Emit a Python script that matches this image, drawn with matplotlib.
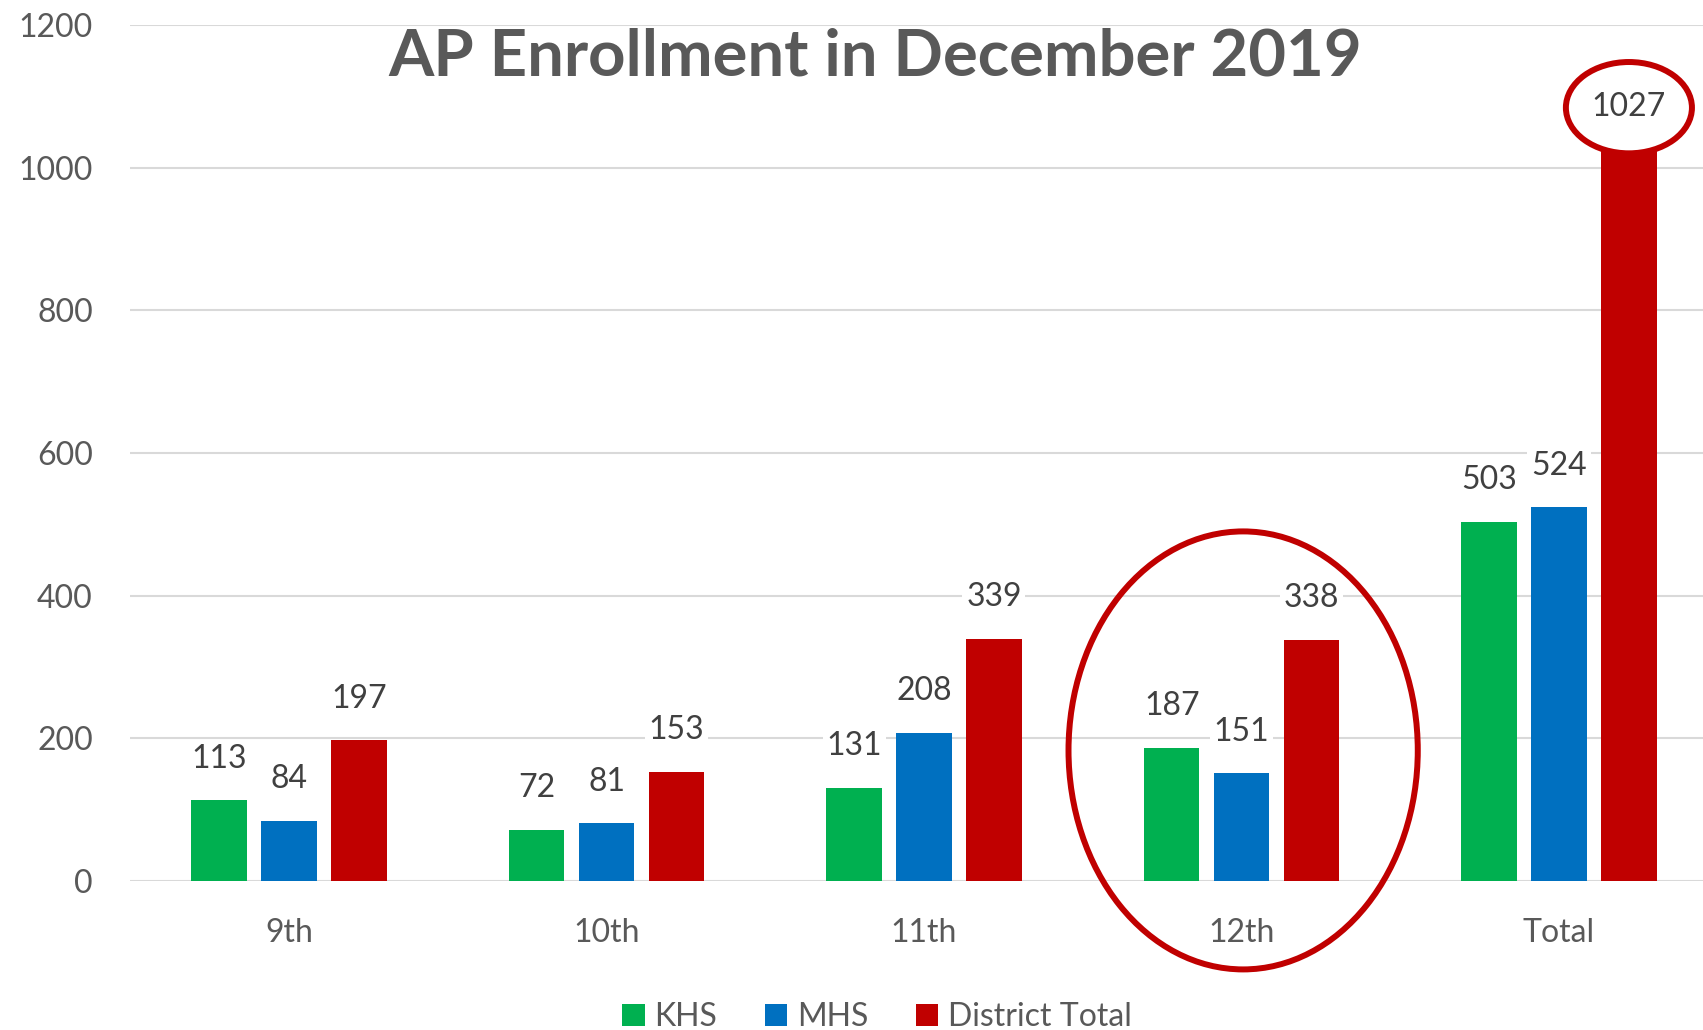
import matplotlib
matplotlib.use("Agg")
import matplotlib.pyplot as plt
from matplotlib.patches import Ellipse, Patch
import numpy as np

categories = ["9th", "10th", "11th", "12th", "Total"]
series_names = ["KHS", "MHS", "District Total"]
khs = [113, 72, 131, 187, 503]
mhs = [84, 81, 208, 151, 524]
district = [197, 153, 339, 338, 1027]
yticks = [0, 200, 400, 600, 800, 1000, 1200]
title = "AP Enrollment in December 2019"

colors = ["#00B050", "#0070C0", "#C00000"]
plt.rcParams['font.family'] = ['Lato', 'DejaVu Sans']

fig = plt.figure(figsize=(17.03, 10.30), dpi=100)
ax = fig.add_axes([0.0765, 0.1447, 0.9322, 0.8311])

x = np.arange(len(categories))
offsets = [-0.22, 0.0, 0.22]
width = 0.175
label_color = "#404040"
tick_color = "#595959"

for vals, off, col, name in zip([khs, mhs, district], offsets, colors, series_names):
    bars = ax.bar(x + off, vals, width=width, color=col, zorder=3, label=name)
    for xi, v in zip(x + off, vals):
        ax.annotate(str(v), (xi, v), xytext=(0, 23.5), textcoords="offset points",
                    ha="center", va="baseline", fontsize=23, color=label_color, zorder=6,
                    bbox=dict(boxstyle="square,pad=0.12", facecolor="white", edgecolor="none"))

ax.set_xlim(-0.5, len(categories) - 0.5)
ax.set_ylim(0, 1200)
ax.set_yticks(yticks)
ax.set_yticklabels([str(t) for t in yticks])
ax.set_xticks(x)
ax.set_xticklabels(categories)
ax.tick_params(axis="y", length=0, pad=27, labelsize=23, labelcolor=tick_color)
ax.tick_params(axis="x", length=0, pad=27, labelsize=23, labelcolor=tick_color)
ax.grid(axis="y", color="#D9D9D9", linewidth=1.5, zorder=0)
ax.set_axisbelow(True)
for s in ax.spines.values():
    s.set_visible(False)

# highlight ellipses
e1 = Ellipse((3 + 0.005, 183), 1.10, 614, facecolor="none", edgecolor="#C00000",
             linewidth=4.3, zorder=7, clip_on=False)
ax.add_patch(e1)
tot_idx = len(categories) - 1
e2 = Ellipse((tot_idx + offsets[2], district[tot_idx] + 57), 0.397, 128, facecolor="white",
             edgecolor="#C00000", linewidth=4.3, zorder=5, clip_on=False)
ax.add_patch(e2)

fig.text(0.514, 0.9444, title, ha="center", va="center", fontsize=47,
         fontweight="bold", color="#595959")

handles = [Patch(facecolor=c) for c in colors]
fig.legend(handles, series_names, loc="lower center", bbox_to_anchor=(0.515, -0.030),
           ncol=3, frameon=False, fontsize=23, handlelength=0.7, handleheight=0.7,
           handletextpad=0.3, columnspacing=1.5, labelcolor=tick_color)

fig.savefig("out.png", dpi=100)
